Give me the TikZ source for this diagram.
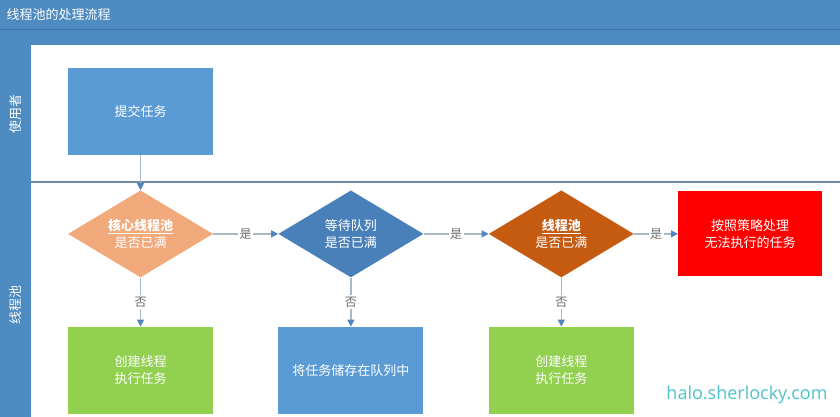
\documentclass[tikz,border=0pt]{standalone}
\usepackage{fontspec}
\setmainfont{Noto Sans CJK SC}
\newfontfamily\wmfont{Open Sans}
\usetikzlibrary{positioning, arrows.meta, shapes.geometric}
\definecolor{clrheader}{HTML}{4E8BC0}
\definecolor{clrheaderline}{HTML}{3F74A8}
\definecolor{clrsubmit}{HTML}{5B9BD5}
\definecolor{clrcore}{HTML}{F2A97C}
\definecolor{clrqueue}{HTML}{4A80BA}
\definecolor{clrpool}{HTML}{C55A11}
\definecolor{clrreject}{HTML}{FF0000}
\definecolor{clrcreate}{HTML}{92D050}
\definecolor{clrstore}{HTML}{5B9BD5}
\definecolor{clrline}{HTML}{A9B8C6}
\definecolor{clrtip}{HTML}{4F86C0}
\definecolor{clrlabel}{HTML}{6B6B6B}
\definecolor{clrdivider}{HTML}{6E8CA8}
\definecolor{clrmark}{HTML}{4CC2C8}

\begin{document}
\begin{tikzpicture}[
    x=1pt, y=-1pt,
    every node/.style={font=\fontsize{13}{17}\selectfont},
    block/.style={rectangle, minimum width=145pt, minimum height=87pt,
                  text=white, align=center, inner sep=0pt},
    decision/.style={diamond, aspect=1.667, minimum width=145pt, minimum height=87pt,
                     text=white, align=center, inner sep=0pt},
    arrow/.style={-{Triangle[length=7pt, width=7pt, color=clrtip]}, color=clrline, line width=1.2pt},
    label/.style={fill=white, text=clrlabel, inner sep=1.5pt, font=\fontsize{12}{14}\selectfont},
    lanetext/.style={text=white, rotate=90},
]
\useasboundingbox (0,0) rectangle (840,417);
% swimlane frame
\fill[clrheader] (0,0) rectangle (840,45);
\draw[clrheaderline, line width=1pt] (0,30) -- (840,30);
\fill[clrheader] (0,45) rectangle (31,417);
\draw[clrdivider, line width=1.2pt] (31,182) -- (840,182);
\node[anchor=west, text=white] (title) at (3,15) {线程池的处理流程};
\node[lanetext] (lane_user) at (15.5,114) {使用者};
\node[lanetext] (lane_pool) at (15.5,305) {线程池};
% flow
\node[block, fill=clrsubmit] (n_1) at (140.5,111.5) {提交任务};
\node[decision, fill=clrcore, below=35pt of n_1] (n_2) {\textbf{\underline{核心线程池}}\\是否已满};
\node[decision, fill=clrqueue, right=65pt of n_2] (n_3) {等待队列\\是否已满};
\node[decision, fill=clrpool, right=65pt of n_3] (n_4) {\textbf{\underline{线程池}}\\是否已满};
\node[block, fill=clrreject, minimum width=144pt, minimum height=85pt, right=44pt of n_4] (n_5) {按照策略处理\\无法执行的任务};
\node[block, fill=clrcreate, below=49pt of n_2] (n_6) {创建线程\\执行任务};
\node[block, fill=clrstore, below=49pt of n_3] (n_7) {将任务储存在队列中};
\node[block, fill=clrcreate, below=49pt of n_4] (n_8) {创建线程\\执行任务};
\draw[arrow] (n_1.south) -- (n_2.north);
\draw[arrow] (n_2.east) -- node[label] {是} (n_3.west);
\draw[arrow] (n_3.east) -- node[label] {是} (n_4.west);
\draw[arrow] (n_4.east) -- node[label] {是} (n_5.west);
\draw[arrow] (n_2.south) -- node[label] {否} (n_6.north);
\draw[arrow] (n_3.south) -- node[label] {否} (n_7.north);
\draw[arrow] (n_4.south) -- node[label] {否} (n_8.north);
\node[text=clrmark, font=\wmfont\fontsize{18}{22}\selectfont] (mark) at (747,395) {halo.sherlocky.com};
\end{tikzpicture}
\end{document}
